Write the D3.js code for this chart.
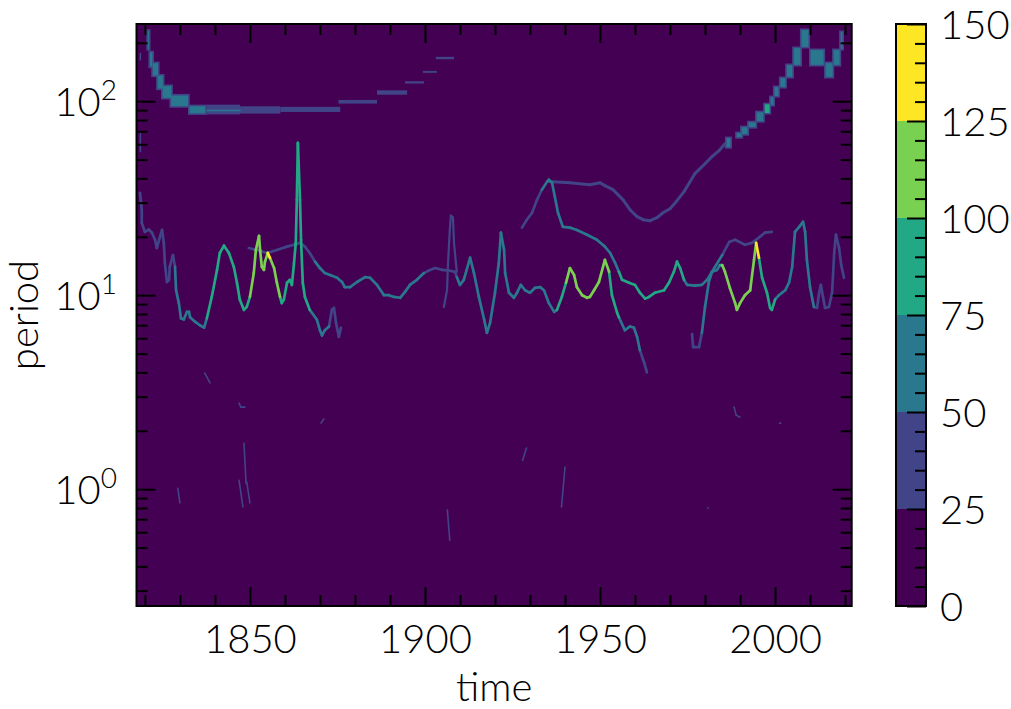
<!DOCTYPE html>
<html>
<head>
<meta charset="utf-8">
<script src="https://cdn.jsdelivr.net/npm/d3@7"></script>
<style>
  html, body { margin: 0; padding: 0; background: #ffffff; }
  svg text { font-family: Lato, "Open Sans", "DejaVu Sans", sans-serif; font-weight: 300; fill: #000; }
</style>
</head>
<body>
<svg id="chart" width="1011" height="709"></svg>
<script>
// ---------------- data ----------------
const timeDomain = [1817.6, 2021.9];
const periodDomain = [0.25, 250];
const colorLevels = [0, 25, 50, 75, 100, 125, 150];
const xMajorTicks = [1850, 1900, 1950, 2000];
const xMinorTicks = [1820, 1830, 1840, 1860, 1870, 1880, 1890, 1910, 1920, 1930, 1940, 1960, 1970, 1980, 1990, 2010, 2020];
const yMajorTicks = [1, 10, 100];
const yMajorLabels = [["10", "0"], ["10", "1"], ["10", "2"]];
const yMinorTicks = [0.3, 0.4, 0.5, 0.6, 0.7, 0.8, 0.9, 2, 3, 4, 5, 6, 7, 8, 9, 20, 30, 40, 50, 60, 70, 80, 90, 200];
const cbarMinorTicks = [5, 10, 15, 20, 30, 35, 40, 45, 55, 60, 65, 70, 80, 85, 90, 95, 105, 110, 115, 120, 130, 135, 140, 145];
const xLabel = "time";
const yLabel = "period";

// ridges: [year, period, magnitude]
const ridgeA = [
  [1818.6, 33.7, 35], [1819.1, 27.5, 35], [1819.1, 23.6, 38], [1820.0, 21.2, 38], [1821.1, 21.8, 38],
  [1822.0, 21.0, 40], [1822.9, 19.3, 40], [1823.4, 17.5, 40], [1824.3, 20.0, 40], [1824.9, 21.7, 42],
  [1825.4, 18.6, 42], [1825.7, 14.7, 42], [1826.3, 11.7, 45], [1826.9, 12.0, 45], [1827.1, 14.0, 45],
  [1828.0, 16.1, 48], [1828.6, 14.0, 52], [1828.9, 10.6, 52], [1829.7, 9.1, 55], [1830.3, 7.6, 58],
  [1831.1, 7.5, 58], [1832.0, 8.2, 60], [1832.6, 8.2, 60], [1832.9, 7.7, 60], [1834.3, 7.3, 62],
  [1835.7, 7.0, 62], [1836.9, 6.8, 68], [1837.7, 7.6, 78], [1839.1, 9.8, 80], [1840.6, 13.5, 82],
  [1841.4, 16.5, 85], [1842.6, 18.0, 85], [1844.0, 16.5, 85], [1845.4, 14.0, 82], [1846.3, 11.6, 82],
  [1847.1, 9.5, 80], [1848.3, 8.4, 82], [1849.1, 8.7, 90], [1850.0, 9.8, 100], [1851.1, 13.0, 105],
  [1851.7, 17.1, 112], [1852.6, 20.2, 112], [1852.9, 17.1, 108], [1853.4, 14.0, 105], [1854.0, 13.5, 105],
  [1854.3, 14.9, 110], [1855.1, 16.5, 130], [1855.7, 15.6, 115], [1856.9, 13.8, 110], [1857.7, 11.6, 100],
  [1858.6, 9.8, 90], [1859.1, 9.1, 85], [1859.7, 9.5, 85], [1860.6, 11.6, 85], [1861.4, 12.0, 85],
  [1862.0, 11.3, 88], [1862.6, 14.7, 85], [1863.1, 18.6, 80], [1863.4, 31, 78], [1863.7, 61, 78],
  [1864.3, 31, 78], [1864.6, 19.3, 78], [1865.1, 11.6, 78], [1865.7, 9.8, 75], [1867.1, 8.4, 72],
  [1869.1, 7.5, 62], [1870.0, 6.6, 58], [1870.6, 6.2, 55], [1871.4, 6.6, 50], [1872.6, 6.9, 45],
  [1873.4, 8.4, 42], [1874.0, 8.6, 42], [1874.6, 7.2, 40], [1875.4, 6.1, 40], [1876.0, 6.8, 40]
];
const ridgeB = [
  [1849.7, 17.5, 40], [1852.0, 17.1, 40], [1854.9, 16.5, 40], [1857.7, 17.1, 42], [1860.6, 17.8, 42],
  [1862.6, 18.2, 45], [1864.3, 18.6, 48], [1865.7, 17.8, 48], [1867.1, 16.5, 48], [1868.6, 14.9, 50],
  [1870.0, 13.8, 52], [1871.4, 13.0, 55], [1872.9, 12.7, 55], [1874.9, 12.3, 55], [1876.3, 11.7, 58],
  [1877.1, 11.0, 58], [1878.6, 11.0, 58], [1880.6, 11.7, 60], [1882.9, 12.4, 60], [1884.3, 12.3, 60],
  [1886.3, 11.3, 58], [1888.3, 10.0, 58], [1889.7, 10.0, 58], [1891.1, 9.8, 58], [1892.9, 9.7, 55],
  [1894.3, 10.4, 55], [1895.7, 11.3, 52], [1897.7, 12.0, 50], [1899.7, 13.0, 48], [1901.1, 13.4, 45],
  [1902.9, 13.8, 45], [1904.9, 13.5, 45], [1906.9, 13.4, 45], [1908.6, 13.2, 48], [1909.1, 12.4, 50],
  [1910.0, 11.3, 55], [1911.1, 12.0, 58], [1912.9, 15.6, 58], [1914.0, 13.0, 60], [1915.4, 9.8, 60],
  [1916.9, 7.5, 58], [1917.7, 6.4, 58], [1918.6, 7.2, 60], [1920.0, 10.3, 62], [1921.1, 14.7, 65],
  [1921.7, 21.0, 65], [1922.6, 17.1, 65], [1922.9, 13.0, 62], [1924.0, 10.3, 62], [1925.4, 9.7, 62],
  [1926.3, 10.3, 62], [1927.4, 11.3, 62], [1928.6, 10.6, 62], [1930.0, 10.3, 62], [1931.4, 10.9, 62],
  [1932.9, 11.0, 65], [1934.0, 10.6, 68], [1935.4, 9.1, 70], [1936.9, 8.2, 72], [1937.7, 8.4, 78],
  [1939.1, 9.8, 95], [1940.3, 11.6, 105], [1941.4, 13.8, 105], [1942.6, 12.7, 105], [1943.4, 11.0, 105],
  [1944.9, 10.0, 105], [1946.3, 9.7, 105], [1947.1, 9.8, 105], [1948.3, 10.6, 105], [1949.7, 11.7, 108],
  [1951.4, 15.2, 100], [1952.6, 13.2, 90], [1953.4, 10.0, 85], [1954.9, 8.1, 80], [1955.4, 7.7, 72],
  [1957.1, 6.6, 62], [1958.6, 6.9, 58], [1959.7, 6.8, 55], [1960.6, 6.1, 50], [1961.4, 5.2, 45],
  [1962.6, 4.5, 42], [1963.4, 4.0, 40]
];
const ridgeF = [
  [1905.4, 8.7, 40], [1906.3, 10.6, 40], [1906.6, 14.9, 42], [1907.1, 21.7, 42], [1907.4, 25.7, 42],
  [1908.0, 25.1, 42], [1908.3, 18.6, 42], [1908.9, 14.3, 45], [1909.1, 13.2, 45]
];
const ridgeD = [
  [1927.7, 22.3, 40], [1929.1, 24.5, 42], [1930.6, 26.6, 45], [1932.0, 31.0, 48], [1933.4, 35.0, 50],
  [1934.9, 38.5, 55], [1935.4, 39.4, 58], [1936.3, 38.0, 58], [1937.1, 32.2, 58], [1938.0, 26.6, 58],
  [1939.4, 22.5, 55], [1941.4, 22.3, 55], [1943.4, 21.7, 55], [1946.3, 20.5, 55], [1949.1, 19.3, 58],
  [1951.4, 17.8, 62], [1952.9, 16.5, 65], [1954.3, 14.7, 70], [1955.4, 13.2, 75], [1956.3, 12.0, 78],
  [1958.3, 11.6, 78], [1960.0, 11.3, 78], [1961.4, 10.3, 78], [1962.9, 9.6, 78], [1964.0, 9.8, 80],
  [1965.7, 10.3, 80], [1968.3, 10.6, 80], [1969.7, 11.6, 82], [1971.1, 13.2, 82], [1972.0, 14.9, 80],
  [1972.9, 13.8, 78], [1974.0, 12.0, 72], [1974.9, 11.3, 65], [1977.1, 11.2, 60], [1979.1, 11.3, 55],
  [1980.6, 12.0, 52], [1982.0, 13.2, 50], [1984.9, 16.1, 45], [1986.9, 18.8, 42], [1988.6, 19.3, 42],
  [1991.4, 18.2, 40], [1993.4, 18.6, 40], [1995.4, 19.8, 40], [1997.1, 21.0, 40], [1999.1, 21.2, 40]
];
const ridgeE = [
  [1935.4, 38.5, 45], [1941.4, 38.0, 40], [1947.1, 37.1, 40], [1950.0, 38.0, 40], [1951.4, 36.7, 42],
  [1953.7, 35.0, 42], [1956.6, 31.0, 42], [1958.6, 27.5, 42], [1960.6, 25.4, 42], [1962.3, 24.5, 42],
  [1964.3, 24.2, 42], [1966.3, 25.1, 42], [1968.0, 26.6, 42], [1970.0, 27.9, 42], [1972.0, 30.7, 42],
  [1974.0, 34.2, 45], [1977.1, 42.3, 45], [1980.0, 47.6, 45], [1982.0, 51.8, 48], [1984.0, 55.6, 48],
  [1985.7, 60.4, 50]
];
const ridgeC = [
  [1976.3, 6.3, 40], [1976.6, 5.4, 40], [1977.1, 5.4, 45], [1978.3, 5.4, 48], [1979.1, 6.4, 52],
  [1980.0, 8.7, 58], [1981.1, 11.7, 62], [1982.0, 13.2, 65], [1983.4, 13.5, 72], [1984.3, 14.3, 90],
  [1984.9, 14.3, 105], [1985.7, 13.2, 105], [1987.1, 10.9, 105], [1988.6, 9.1, 105], [1989.1, 8.4, 105],
  [1990.0, 9.1, 105], [1991.4, 10.0, 105], [1992.9, 10.6, 110], [1994.0, 15.2, 110], [1994.6, 18.6, 130],
  [1995.4, 15.6, 95], [1996.3, 12.3, 90], [1997.7, 10.3, 85], [1998.6, 8.6, 80], [1999.1, 8.4, 78],
  [2000.0, 9.5, 72], [2001.1, 10.0, 70], [2002.0, 10.3, 70], [2002.9, 10.6, 68], [2004.0, 11.6, 65],
  [2004.9, 14.0, 62], [2005.7, 21.2, 62], [2006.9, 22.5, 62], [2008.0, 23.9, 60], [2008.6, 21.2, 58],
  [2009.1, 15.2, 55], [2010.0, 11.0, 50], [2011.1, 8.7, 48], [2012.0, 8.6, 45], [2012.6, 10.3, 45],
  [2013.1, 11.3, 45], [2013.7, 9.8, 45], [2014.3, 8.6, 45], [2015.4, 8.7, 42], [2016.3, 10.3, 42],
  [2016.9, 16.5, 42], [2017.4, 20.5, 42], [2018.3, 17.5, 40], [2018.9, 14.3, 40], [2019.7, 12.3, 40]
];
// short faint traces: [year, period, magnitude]
const fragments = [
  [[1837.1, 3.97, 40], [1838.6, 3.53, 40]],
  [[1846.9, 2.78, 40], [1847.4, 2.65, 40], [1848.6, 2.65, 40]],
  [[1870.3, 2.19, 40], [1871.1, 2.30, 40]],
  [[1829.4, 1.01, 40], [1830.0, 0.85, 40]],
  [[1848.3, 1.73, 40], [1848.9, 1.07, 40]],
  [[1846.9, 1.11, 40], [1848.0, 0.81, 40]],
  [[1849.1, 1.09, 40], [1850.0, 0.85, 40]],
  [[1906.4, 0.78, 40], [1907.1, 0.545, 40]],
  [[1929.0, 1.63, 40], [1927.9, 1.41, 40]],
  [[1940.0, 1.30, 40], [1939.0, 0.81, 40]],
  [[1988.3, 2.65, 40], [1988.9, 2.41, 40], [1990.0, 2.35, 40]],
  [[2001.3, 2.19, 40], [2001.6, 2.19, 40]],
  [[1980.8, 0.80, 40], [1981.0, 0.80, 40]],
  [[1837.7, 89.5, 55], [1847.2, 89.5, 55]],
  [[1818.7, 176, 40], [1818.7, 163, 40]],
  [[1818.7, 68, 40], [1818.7, 55, 40]]
];
// coarse long-period cells: [yearStart, yearEnd, periodLow, periodHigh, magnitude]
const blocksLow = [
  [1820.4, 1821.6, 182, 235, 58], [1821.0, 1822.6, 148, 182, 60], [1821.8, 1824.2, 133, 160, 62],
  [1823.2, 1825.6, 114, 138, 62], [1824.6, 1828.0, 102, 122, 60], [1827.0, 1832.8, 92.5, 109, 60],
  [1832.3, 1837.7, 85, 96, 62], [1837.7, 1847.2, 85.5, 96, 45], [1844.3, 1858.7, 86.3, 94.1, 42],
  [1858.7, 1875.8, 88, 93.5, 42], [1875.3, 1886.3, 97.2, 101.5, 40], [1886.3, 1894.9, 108, 113.8, 40],
  [1894.3, 1899.7, 123.3, 126.7, 40], [1899.4, 1903.4, 140, 143.3, 40], [1903.1, 1908.3, 164.6, 169.3, 40]
];
const blocksHigh = [
  [1985.7, 1987.7, 56.9, 65.7, 55], [1988.6, 1990.9, 64.1, 69.7, 50], [1990.0, 1992.6, 66.4, 74.8, 55],
  [1992.0, 1994.9, 72.2, 79.3, 58], [1994.3, 1997.1, 77.5, 89.4, 62], [1996.6, 1998.9, 85.3, 98.3, 80],
  [1998.3, 2000.0, 93.8, 106.9, 62], [1999.4, 2001.4, 104.4, 120.4, 62], [2001.1, 2003.4, 116.2, 134, 62],
  [2002.9, 2005.4, 130.9, 156.4, 62], [2004.9, 2007.7, 151, 191.4, 62], [2007.1, 2010.0, 186.9, 237, 60],
  [2009.7, 2014.3, 151, 186.9, 62], [2014.0, 2016.9, 130.9, 160.2, 62], [2016.3, 2018.9, 151, 186.9, 60],
  [2018.3, 2019.7, 182.5, 231.4, 55]
];

// ---------------- drawing ----------------
const svg = d3.select("#chart");
const L = 136.5, R = 851.7, T = 24, B = 606;
const CBX = 896, CBW = 30;
const FS = 40;

const x = d3.scaleLinear().domain(timeDomain).range([L, R]);
const y = d3.scaleLog().domain(periodDomain).range([B, T]);
const levelColors = d3.range(colorLevels.length - 1).map(i => d3.interpolateViridis(i / (colorLevels.length - 2)));
const color = d3.scaleThreshold().domain(colorLevels.slice(1, -1)).range(levelColors);

svg.append("rect").attr("width", 1011).attr("height", 709).attr("fill", "#fff");

svg.append("defs").append("clipPath").attr("id", "clip")
  .append("rect").attr("x", L).attr("y", T).attr("width", R - L).attr("height", B - T);
const plot = svg.append("g").attr("clip-path", "url(#clip)");

plot.append("rect").attr("x", L).attr("y", T).attr("width", R - L).attr("height", B - T)
  .attr("fill", color(colorLevels[0]));

// block cells: edge then core
const allBlocks = blocksLow.concat(blocksHigh);
const inset = 1.6;
plot.append("g").selectAll("rect").data(allBlocks).join("rect")
  .attr("x", d => x(d[0])).attr("width", d => x(d[1]) - x(d[0]))
  .attr("y", d => y(d[3])).attr("height", d => y(d[2]) - y(d[3]))
  .attr("fill", levelColors[1]);
plot.append("g").selectAll("rect").data(allBlocks.filter(d => d[4] >= colorLevels[2])).join("rect")
  .attr("x", d => x(d[0]) + inset).attr("width", d => Math.max(0, x(d[1]) - x(d[0]) - 2 * inset))
  .attr("y", d => y(d[3]) + inset).attr("height", d => Math.max(0, y(d[2]) - y(d[3]) - 2 * inset))
  .attr("fill", d => color(d[4]));

// ridge segments, higher magnitude on top
const segs = [];
[[ridgeA, 2.7], [ridgeB, 2.7], [ridgeF, 2.2], [ridgeD, 2.7], [ridgeE, 3.0], [ridgeC, 2.7]].forEach(([r, w]) => {
  for (let i = 0; i < r.length - 1; i++) segs.push({ a: r[i], b: r[i + 1], v: r[i][2], w: w });
});
fragments.forEach(f => {
  for (let i = 0; i < f.length - 1; i++) segs.push({ a: f[i], b: f[i + 1], v: f[i][2], w: 1.6 });
});
segs.sort((s, t) => s.v - t.v);
plot.append("g").selectAll("line").data(segs).join("line")
  .attr("x1", d => x(d.a[0])).attr("y1", d => y(d.a[1]))
  .attr("x2", d => x(d.b[0])).attr("y2", d => y(d.b[1]))
  .attr("stroke", d => color(d.v)).attr("stroke-width", d => d.w)
  .attr("stroke-linecap", "round");

// axes (ticks pointing inward)
function clean(g) {
  g.attr("font-family", null).attr("font-size", null);
  g.select(".domain").remove();
  g.selectAll(".tick line").attr("stroke", "#000").attr("stroke-width", 2);
}
const axes = svg.append("g");
axes.append("g").attr("transform", `translate(0,${B})`)
  .call(d3.axisBottom(x).tickValues(xMajorTicks).tickSize(-19).tickPadding(19).tickFormat(d3.format("d")))
  .call(clean).selectAll("text").attr("font-size", FS);
axes.append("g").attr("transform", `translate(0,${B})`)
  .call(d3.axisBottom(x).tickValues(xMinorTicks).tickSize(-11).tickFormat("")).call(clean);
axes.append("g").attr("transform", `translate(0,${T})`)
  .call(d3.axisTop(x).tickValues(xMajorTicks).tickSize(-19).tickFormat("")).call(clean);
axes.append("g").attr("transform", `translate(0,${T})`)
  .call(d3.axisTop(x).tickValues(xMinorTicks).tickSize(-11).tickFormat("")).call(clean);
axes.append("g").attr("transform", `translate(${L},0)`)
  .call(d3.axisLeft(y).tickValues(yMajorTicks).tickSize(-19).tickFormat("")).call(clean);
axes.append("g").attr("transform", `translate(${L},0)`)
  .call(d3.axisLeft(y).tickValues(yMinorTicks).tickSize(-11).tickFormat("")).call(clean);
axes.append("g").attr("transform", `translate(${R},0)`)
  .call(d3.axisRight(y).tickValues(yMajorTicks).tickSize(-19).tickFormat("")).call(clean);
axes.append("g").attr("transform", `translate(${R},0)`)
  .call(d3.axisRight(y).tickValues(yMinorTicks).tickSize(-11).tickFormat("")).call(clean);

// y tick labels 10^n
svg.append("g").selectAll("text").data(yMajorTicks).join("text")
  .attr("x", L - 19.5).attr("y", d => y(d) + 15).attr("text-anchor", "end").attr("font-size", FS)
  .each(function (d, i) {
    const t = d3.select(this);
    t.append("tspan").text(yMajorLabels[i][0]);
    t.append("tspan").attr("font-size", 28).attr("dy", -16).text(yMajorLabels[i][1]);
  });

// frame
svg.append("rect").attr("x", L).attr("y", T).attr("width", R - L).attr("height", B - T)
  .attr("fill", "none").attr("stroke", "#000").attr("stroke-width", 2);

// axis titles
svg.append("text").attr("x", (L + R) / 2).attr("y", 701).attr("text-anchor", "middle")
  .attr("font-size", FS).text(xLabel);
svg.append("text").attr("transform", `translate(38,${(T + B) / 2}) rotate(-90)`)
  .attr("text-anchor", "middle").attr("font-size", FS).text(yLabel);

// colorbar
const cb = d3.scaleLinear().domain([colorLevels[0], colorLevels[colorLevels.length - 1]]).range([B, T]);
svg.append("g").selectAll("rect").data(d3.pairs(colorLevels)).join("rect")
  .attr("x", CBX).attr("width", CBW)
  .attr("y", d => cb(d[1])).attr("height", d => cb(d[0]) - cb(d[1]))
  .attr("fill", d => color(d[0]));
svg.append("g").attr("transform", `translate(${CBX + CBW},0)`)
  .call(d3.axisRight(cb).tickValues(colorLevels).tickSize(-19).tickPadding(14).tickFormat(d3.format("d")))
  .call(clean).selectAll("text").attr("font-size", FS).attr("dy", "0.36em");
svg.append("g").attr("transform", `translate(${CBX + CBW},0)`)
  .call(d3.axisRight(cb).tickValues(cbarMinorTicks).tickSize(-11).tickFormat("")).call(clean);
svg.append("rect").attr("x", CBX).attr("y", T).attr("width", CBW).attr("height", B - T)
  .attr("fill", "none").attr("stroke", "#000").attr("stroke-width", 2);
</script>
</body>
</html>
